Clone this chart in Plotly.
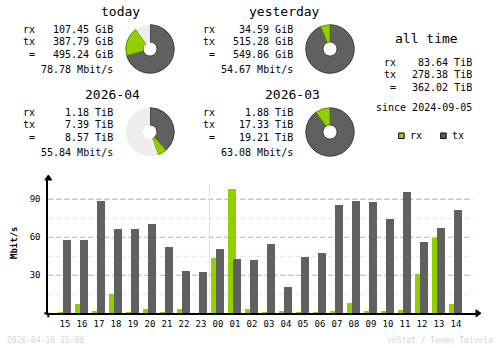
import plotly.graph_objects as go

W, H = 500, 348

# hourly traffic, Mbit/s
hours = ["15", "16", "17", "18", "19", "20", "21", "22", "23", "00", "01", "02",
         "03", "04", "05", "06", "07", "08", "09", "10", "11", "12", "13", "14"]
rx_mbit = [1.0, 7.4, 1.8, 15.3, 1.0, 3.4, 1.0, 3.4, 0.0, 43.7, 98.2, 3.4,
           1.0, 1.8, 1.0, 1.0, 1.8, 8.2, 1.8, 1.8, 2.6, 31.0, 59.5, 7.4]
tx_mbit = [57.9, 57.9, 88.7, 66.6, 66.6, 70.5, 52.4, 33.4, 32.6, 50.8, 42.9, 42.1,
           54.7, 20.8, 44.5, 47.6, 85.5, 88.7, 87.9, 74.5, 95.8, 56.3, 67.4, 81.6]

# summary periods
periods = ["today", "yesterday", "2026-04", "2026-03"]
units = ["GiB", "GiB", "TiB", "TiB"]
rx_vals = [107.45, 34.59, 1.18, 1.88]
tx_vals = [387.79, 515.28, 7.39, 17.33]
tot_vals = [495.24, 549.86, 8.57, 19.21]
rates = [78.78, 54.67, 55.84, 63.08]

alltime_rx = 83.64
alltime_tx = 278.38
alltime_tot = 362.02
alltime_unit = "TiB"
since = "2024-09-05"

C_RX = "#92CF00"
C_TX = "#606060"
C_REST = "#EEEEEE"
C_EDGE = "#3A3A3A"
MONO = "DejaVu Sans Mono"


def px(x):
    return x / W


def py(y):
    return 1 - y / H


fig = go.Figure()

# ---- hourly bar chart ----
x0_px, x1_px = 48.3, 476.0
y0_px, y1_px = 313.3, 180.0
step = 17.0
first_c = 65.0
xr = [(x0_px - first_c) / step, (x1_px - first_c) / step]
ppu = 38.0 / 30.0
yr = [0, (y0_px - y1_px) / ppu]

fig.add_trace(go.Bar(x=hours, y=rx_mbit, marker=dict(color=C_RX, line=dict(width=0)),
                     offset=-7 / step, width=8 / step, showlegend=False, hoverinfo="skip"))
fig.add_trace(go.Bar(x=hours, y=tx_mbit, marker=dict(color=C_TX, line=dict(width=0)),
                     offset=-2 / step, width=8 / step, showlegend=False, hoverinfo="skip"))

shapes = []
grid_end = (472.7 - first_c) / step
for v in [15, 45, 75]:
    shapes.append(dict(type="line", xref="x", yref="y", x0=xr[0], x1=grid_end, y0=v, y1=v,
                       line=dict(color="#E0E0E0", width=1, dash="5px,3px"), layer="below"))
for v in [30, 60, 90]:
    shapes.append(dict(type="line", xref="x", yref="y", x0=xr[0], x1=grid_end, y0=v, y1=v,
                       line=dict(color="#B0B0B0", width=1, dash="5px,3px"), layer="below"))
# day boundary
shapes.append(dict(type="line", xref="x", yref="y", x0=8.5, x1=8.5, y0=0, y1=102,
                   line=dict(color="#E0E0E0", width=1), layer="below"))
# axis arrows
shapes.append(dict(type="path", xref="paper", yref="paper",
                   path=f"M {px(x1_px)} {py(y0_px - 3.5)} L {px(x1_px + 5)} {py(y0_px)} L {px(x1_px)} {py(y0_px + 3.5)} Z",
                   fillcolor="black", line=dict(color="black", width=1)))
shapes.append(dict(type="path", xref="paper", yref="paper",
                   path=f"M {px(x0_px - 3.5)} {py(y1_px)} L {px(x0_px)} {py(y1_px - 5)} L {px(x0_px + 3.5)} {py(y1_px)} Z",
                   fillcolor="black", line=dict(color="black", width=1)))
shapes.append(dict(type="line", xref="paper", yref="paper", x0=px(x0_px), x1=px(x0_px),
                   y0=py(y0_px), y1=py(y0_px + 4), line=dict(color="black", width=2)))
shapes.append(dict(type="line", xref="paper", yref="paper", x0=px(x0_px - 4), x1=px(x0_px),
                   y0=py(y0_px), y1=py(y0_px), line=dict(color="black", width=2)))

# ---- summary pies ----
pie_centers = [(150, 49), (330, 49), (150, 132), (330, 132)]
R = 24.2
for i in range(4):
    pair = i - (i % 2)
    full = max(tot_vals[pair], tot_vals[pair + 1])
    rest = max(full - tot_vals[i], 0)
    cx, cy = pie_centers[i]
    fig.add_trace(go.Pie(
        values=[tx_vals[i], rx_vals[i], rest],
        sort=False, direction="clockwise", rotation=0, hole=0.29,
        marker=dict(colors=[C_TX, C_RX, C_REST],
                    line=dict(color=[C_EDGE, "#5E8A00", C_REST], width=[1, 1, 0])),
        textinfo="none", hoverinfo="skip", showlegend=False,
        domain=dict(x=[px(cx - R), px(cx + R)], y=[py(cy + R), py(cy - R)])))

annotations = []


def text(x, y, s, anchor="left", size=10, color="black"):
    annotations.append(dict(x=px(x), y=py(y), xref="paper", yref="paper", text=s,
                            showarrow=False, xanchor=anchor, yanchor="middle",
                            font=dict(family=MONO, size=size, color=color)))


blocks = [(0, 0), (180, 0), (0, 83), (180, 83)]
for i, (dx, dy) in enumerate(blocks):
    text(142 + dx, 12 + dy, periods[i], anchor="right", size=13)
    text(37 + dx, 29 + dy, "rx", anchor="right")
    text(37 + dx, 41.5 + dy, "tx", anchor="right")
    text(37 + dx, 54.5 + dy, "=", anchor="right")
    text(115 + dx, 29 + dy, f"{rx_vals[i]:.2f} {units[i]}", anchor="right")
    text(115 + dx, 41.5 + dy, f"{tx_vals[i]:.2f} {units[i]}", anchor="right")
    text(115 + dx, 54.5 + dy, f"{tot_vals[i]:.2f} {units[i]}", anchor="right")
    text(115 + dx, 69 + dy, f"{rates[i]:.2f} Mbit/s", anchor="right")

text(460, 39, "all time", anchor="right", size=13)
text(397.5, 62.5, "rx", anchor="right")
text(397.5, 74.5, "tx", anchor="right")
text(397.5, 87.5, "=", anchor="right")
text(474, 62.5, f"{alltime_rx:.2f} {alltime_unit}", anchor="right")
text(474, 74.5, f"{alltime_tx:.2f} {alltime_unit}", anchor="right")
text(474, 87.5, f"{alltime_tot:.2f} {alltime_unit}", anchor="right")
text(474, 108, f"since {since}", anchor="right")

# legend swatches
for (sx, col, lab) in [(398.7, C_RX, "rx"), (440.7, C_TX, "tx")]:
    shapes.append(dict(type="rect", xref="paper", yref="paper",
                       x0=px(sx), x1=px(sx + 5.5), y0=py(138.5), y1=py(133),
                       fillcolor=col, line=dict(color="black", width=1)))
    text(sx + 9, 135.8, lab)

# y axis title and footer
annotations.append(dict(x=px(14), y=py(243), xref="paper", yref="paper", text="<b>Mbit/s</b>",
                        showarrow=False, textangle=-90, xanchor="center", yanchor="middle",
                        font=dict(family=MONO, size=9, color="black")))
text(5, 340, "2026-04-16 15:00", size=8, color="#D4D4D4")
text(495, 340, "vnStat / Teemu Toivola", anchor="right", size=8, color="#D4D4D4")

fig.update_layout(
    width=W, height=H, autosize=False,
    margin=dict(l=0, r=0, t=0, b=0, pad=0),
    paper_bgcolor="white", plot_bgcolor="white",
    barmode="overlay", bargap=0,
    shapes=shapes, annotations=annotations,
    xaxis=dict(domain=[px(x0_px), px(x1_px)], range=xr, type="category",
               showgrid=False, zeroline=False, showline=True, linecolor="black", linewidth=2,
               ticks="", tickfont=dict(family=MONO, size=9, color="black"), ticklabelstandoff=1,
               fixedrange=True),
    yaxis=dict(domain=[py(y0_px), py(y1_px)], range=yr, showgrid=False, zeroline=False,
               showline=True, linecolor="black", linewidth=2, ticks="",
               tickvals=[30, 60, 90], ticktext=["30", "60", "90"],
               tickfont=dict(family=MONO, size=9, color="black"), ticklabelstandoff=4,
               fixedrange=True),
)

fig.write_html("out.html")
